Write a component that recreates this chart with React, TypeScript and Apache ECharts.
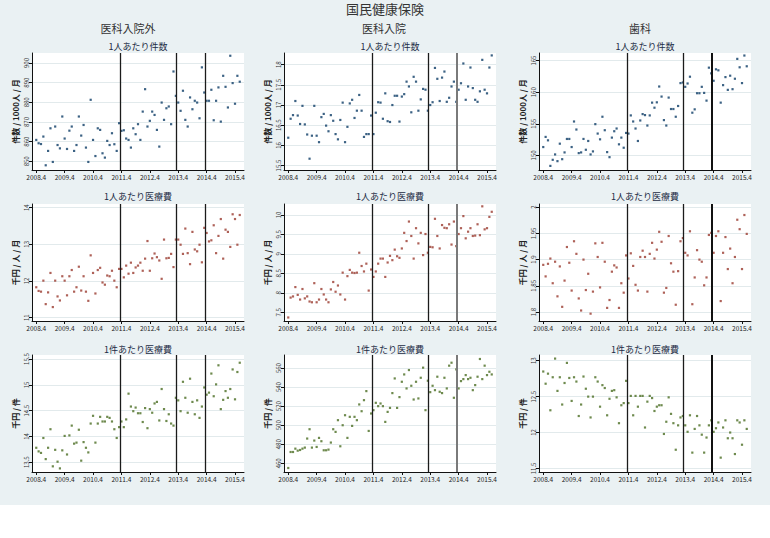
import React, { useEffect, useRef } from "react";
import * as echarts from "echarts";

// Monthly series, 2008.4 onward (month index 0 = 2008.4)
const yearTickMonths = [0, 12, 24, 36, 48, 60, 72, 84];
const yearTickLabels = ["2008.4", "2009.4", "2010.4", "2011.4", "2012.4", "2013.4", "2014.4", "2015.4"];
const eventMonths = [35.5, 59, 71.3];

const columnTitles = ["医科入院外", "医科入院", "歯科"];
const rowTitles = ["1人あたり件数", "1人あたり医療費", "1件あたり医療費"];
const rowUnits = ["件数 / 1000人 / 月", "千円 / 人 / 月", "千円 / 件"];

// 1人あたり件数
const outpatientCount = [
  860.9, 859.2, 858.8, 862.6, 848.0, 855.3, 866.8, 849.7, 867.7, 858.3,
  856.6, 872.8, 861.6, 856.3, 865.6, 867.7, 855.3, 858.3, 872.8, 863.1,
  868.5, 857.0, 849.7, 881.3, 860.9, 852.7, 866.8, 866.0, 854.1, 851.9,
  860.4, 858.3, 864.3, 858.7, 855.3, 869.4, 865.5, 865.8, 861.6, 860.9,
  857.0, 866.8, 863.8, 868.9, 860.9, 875.3, 886.7, 867.7, 870.6, 875.3,
  873.6, 866.0, 857.5, 879.9, 871.1, 877.0, 877.9, 868.9, 895.7, 883.3,
  879.9, 875.7, 885.9, 871.1, 867.7, 882.5, 876.5, 880.8, 879.9, 871.9,
  897.8, 885.0, 880.8, 880.8, 886.4, 870.9, 880.8, 887.6, 870.2, 893.5,
  887.9, 877.4, 903.7, 889.8, 879.3, 893.5, 890.5,
];
const inpatientCount = [
  16.19, 16.66, 16.75, 17.1, 16.74, 16.53, 16.98, 16.52, 16.27, 15.67,
  16.24, 16.98, 16.24, 16.08, 16.7, 16.78, 16.49, 16.35, 16.75, 16.61,
  16.28, 16.15, 16.63, 17.06, 16.08, 16.46, 17.04, 17.13, 16.68, 16.86,
  17.25, 16.86, 16.21, 16.28, 16.28, 16.74, 16.28, 16.81, 17.07, 17.06,
  16.66, 17.29, 16.6, 16.58, 17.0, 17.23, 17.23, 16.59, 17.21, 17.27,
  17.58, 17.46, 16.82, 17.7, 17.58, 16.86, 17.14, 17.4, 17.38, 16.86,
  17.0, 17.07, 17.92, 17.65, 17.1, 17.68, 17.83, 17.08, 17.18, 17.46,
  17.58, 17.08, 17.38, 17.54, 18.03, 17.13, 17.46, 17.93, 17.42, 17.13,
  17.08, 17.34, 18.12, 17.38, 17.29, 17.93, 18.23,
];
const dentalCount = [
  151.33, 152.93, 152.39, 148.35, 149.31, 150.16, 149.1, 151.86, 149.41, 150.48,
  152.61, 152.61, 151.33, 155.37, 154.1, 150.37, 150.48, 152.61, 150.9, 152.29,
  150.16, 150.64, 154.95, 153.46, 152.55, 156.12, 153.99, 150.53, 149.73, 152.82,
  153.83, 154.26, 151.76, 152.82, 151.22, 153.56, 153.46, 156.33, 155.37, 154.26,
  152.29, 155.53, 156.54, 156.38, 154.73, 156.33, 158.35, 157.55, 158.4, 160.9,
  159.31, 155.59, 154.73, 159.15, 157.34, 157.34, 156.12, 157.82, 161.44, 161.54,
  160.85, 161.38, 162.45, 156.76, 157.29, 159.84, 159.84, 160.85, 159.89, 158.67,
  163.88, 162.98, 161.81, 163.62, 163.46, 158.35, 161.12, 162.39, 160.37, 162.61,
  160.48, 162.13, 165.27, 163.94, 161.44, 165.8, 164.1,
];

// 1人あたり医療費
const outpatientPerCapita = [
  11.83, 11.73, 11.71, 12.01, 11.37, 11.69, 12.22, 11.29, 12.01, 11.58,
  11.47, 12.13, 12.01, 11.61, 12.13, 12.3, 11.71, 11.83, 12.39, 11.74,
  12.13, 11.71, 11.46, 12.7, 12.22, 11.66, 12.3, 12.36, 11.96, 11.9,
  12.15, 12.13, 12.28, 12.01, 11.83, 12.33, 12.33, 12.1, 12.42, 12.2,
  12.5, 12.22, 12.37, 12.42, 12.5, 12.28, 12.61, 13.09, 12.28, 12.62,
  12.75, 12.65, 12.56, 12.06, 13.13, 12.62, 12.63, 12.74, 12.38, 13.13,
  13.13, 12.99, 12.74, 13.43, 12.76, 12.46, 13.34, 12.86, 12.81, 12.99,
  12.51, 13.45, 13.31, 13.08, 13.11, 13.52, 12.76, 13.23, 13.69, 12.61,
  13.4, 13.34, 12.93, 13.82, 13.69, 12.99, 13.8,
];
const inpatientPerCapita = [
  7.37, 7.88, 7.91, 8.15, 7.95, 7.83, 8.1, 7.86, 7.91, 7.78,
  7.76, 8.25, 7.76, 7.83, 8.1, 7.96, 7.83, 7.76, 8.09, 8.28,
  8.03, 8.19, 7.96, 8.52, 7.83, 8.43, 8.59, 8.52, 8.51, 8.52,
  9.03, 8.69, 8.55, 8.75, 8.06, 8.6, 8.41, 8.55, 8.75, 8.88,
  8.88, 8.41, 8.78, 8.95, 8.84, 9.11, 8.94, 8.9, 9.14, 9.54,
  9.33, 9.83, 9.46, 8.88, 9.66, 9.27, 9.54, 8.97, 9.51, 9.03,
  9.18, 9.17, 9.9, 9.46, 9.14, 9.74, 9.67, 9.66, 9.76, 9.24,
  9.83, 9.2, 9.51, 9.66, 9.97, 9.4, 9.57, 9.66, 9.46, 9.47,
  9.76, 9.48, 10.22, 9.63, 9.66, 9.95, 10.08,
];
const dentalPerCapita = [
  1.89, 1.868, 1.892, 1.902, 1.855, 1.896, 1.83, 1.887, 1.81, 1.86,
  1.924, 1.894, 1.841, 1.935, 1.911, 1.826, 1.803, 1.9, 1.842, 1.873,
  1.797, 1.839, 1.931, 1.905, 1.847, 1.932, 1.896, 1.808, 1.823, 1.877,
  1.889, 1.885, 1.808, 1.855, 1.837, 1.908, 1.864, 1.912, 1.888, 1.852,
  1.841, 1.905, 1.917, 1.905, 1.839, 1.911, 1.932, 1.902, 1.919, 1.953,
  1.934, 1.837, 1.846, 1.945, 1.893, 1.877, 1.814, 1.878, 1.935, 1.941,
  1.913, 1.908, 1.954, 1.815, 1.866, 1.918, 1.9, 1.896, 1.851, 1.866,
  1.947, 1.951, 1.913, 1.945, 1.954, 1.821, 1.913, 1.943, 1.882, 1.921,
  1.855, 1.905, 1.976, 1.958, 1.882, 1.985, 1.949,
];

// 1件あたり医療費
const outpatientPerClaim = [
  13.78, 13.71, 13.68, 13.97, 13.56, 13.78, 14.14, 13.42, 13.74, 13.51,
  13.38, 13.73, 14.01, 13.65, 14.02, 14.21, 13.86, 13.88, 14.13, 13.53,
  13.89, 13.78, 13.69, 14.25, 14.4, 13.88, 14.25, 14.38, 14.29, 14.29,
  14.38, 14.36, 14.29, 14.14, 13.97, 14.18, 14.29, 14.18, 14.33, 14.83,
  14.58, 14.49, 14.56, 14.45, 14.45, 14.28, 14.55, 14.16, 14.53, 14.46,
  14.64, 14.67, 14.31, 14.92, 14.53, 14.3, 14.43, 14.25, 14.21, 14.75,
  14.7, 14.49, 15.06, 14.75, 14.46, 15.12, 14.67, 14.43, 14.7, 14.36,
  14.58, 14.95, 14.81, 14.85, 15.22, 14.78, 15.01, 15.38, 14.53, 14.71,
  14.88, 14.75, 14.92, 15.3, 14.72, 15.25, 15.43,
];
const inpatientPerClaim = [
  455.1, 471.9, 471.9, 475.4, 473.3, 474.0, 475.4, 476.5, 486.0, 495.8,
  476.5, 483.9, 477.2, 486.7, 483.2, 473.7, 473.7, 474.4, 481.8, 495.8,
  493.0, 505.3, 477.9, 500.0, 510.5, 486.7, 508.8, 499.3, 508.8, 505.3,
  521.8, 514.7, 526.3, 535.8, 494.0, 512.3, 515.8, 523.5, 520.0, 522.8,
  520.0, 503.5, 514.0, 518.2, 533.7, 549.1, 518.2, 529.5, 545.6, 553.3,
  538.6, 557.9, 541.4, 527.0, 545.6, 528.1, 549.8, 560.4, 515.8, 546.7,
  534.7, 541.4, 536.8, 550.9, 535.1, 533.7, 549.8, 538.6, 562.5, 565.6,
  528.8, 558.6, 538.6, 546.3, 548.4, 552.6, 548.4, 549.8, 536.8, 542.1,
  550.9, 569.5, 548.4, 562.5, 552.6, 556.1, 553.3,
];
const dentalPerClaim = [
  12.85, 12.68, 12.82, 12.31, 12.77, 13.03, 12.58, 12.77, 12.39, 12.69,
  12.97, 12.76, 12.44, 12.77, 12.71, 12.23, 12.39, 12.78, 12.61, 12.5,
  12.21, 12.5, 12.77, 12.71, 12.36, 12.66, 12.62, 12.24, 12.47, 12.58,
  12.59, 12.49, 12.13, 12.38, 12.41, 12.72, 12.41, 12.51, 12.24, 12.51,
  12.36, 12.51, 12.51, 12.07, 12.43, 12.51, 12.48, 12.3, 12.36, 12.38,
  12.38, 11.98, 12.15, 12.49, 12.26, 12.13, 11.76, 12.1, 12.21, 12.23,
  12.1, 12.01, 12.24, 11.72, 12.05, 12.23, 12.1, 11.97, 11.72, 11.93,
  12.1, 12.17, 12.01, 12.06, 12.14, 11.65, 12.07, 12.17, 11.92, 12.0,
  11.92, 11.7, 12.17, 12.14, 11.83, 12.17, 12.05,
];

// y-axis tick values per panel
const ticksOutCount = [850, 860, 870, 880, 890, 900];
const ticksInCount = [15.5, 16, 16.5, 17, 17.5, 18];
const ticksDentCount = [150, 155, 160, 165];
const ticksOutPerCapita = [11, 12, 13, 14];
const ticksInPerCapita = [7.5, 8, 8.5, 9, 9.5, 10];
const ticksDentPerCapita = [1.8, 1.85, 1.9, 1.95, 2];
const ticksOutPerClaim = [13.5, 14, 14.5, 15, 15.5];
const ticksInPerClaim = [460, 480, 500, 520, 540, 560];
const ticksDentPerClaim = [11.5, 12, 12.5, 13];

const panelSeries = [
  { data: outpatientCount, ticks: ticksOutCount, min: 845.6, max: 905.1 },
  { data: inpatientCount, ticks: ticksInCount, min: 15.39, max: 18.29 },
  { data: dentalCount, ticks: ticksDentCount, min: 147.7, max: 166.2 },
  { data: outpatientPerCapita, ticks: ticksOutPerCapita, min: 10.91, max: 14.1 },
  { data: inpatientPerCapita, ticks: ticksInPerCapita, min: 7.28, max: 10.28 },
  { data: dentalPerCapita, ticks: ticksDentPerCapita, min: 1.783, max: 2.006 },
  { data: outpatientPerClaim, ticks: ticksOutPerClaim, min: 13.31, max: 15.58 },
  { data: inpatientPerClaim, ticks: ticksInPerClaim, min: 450.9, max: 573.7 },
  { data: dentalPerClaim, ticks: ticksDentPerClaim, min: 11.45, max: 13.08 },
];

// layout
const colLeft = [32, 284, 539];
const plotWidth = 212;
const rowTop = [53, 204, 355];
const plotHeight = 117;
const rowColor = ["#1a476f", "#a0453b", "#55752f"];
const subtitleY = [46, 196, 349];
const FONT = '"Noto Sans CJK JP", "Noto Sans", sans-serif';

function eventLineStyles(col: number) {
  return eventMonths.map((m, k) => {
    const last = k === eventMonths.length - 1;
    let style = { color: "#1b1b1b", width: 1.3, type: "solid" as const };
    if (last && col === 1) style = { color: "#7a7a7a", width: 2, type: "solid" as const };
    if (last && col === 2) style = { color: "#111", width: 2, type: "solid" as const };
    return { xAxis: m, lineStyle: style };
  });
}

function buildOption() {
  const grid: any[] = [];
  const xAxis: any[] = [];
  const yAxis: any[] = [];
  const series: any[] = [];
  const graphic: any[] = [];

  graphic.push({
    type: "text",
    x: 385,
    y: 8,
    style: { text: "国民健康保険", font: `13px ${FONT}`, fill: "#333", align: "center", verticalAlign: "middle" },
  });
  columnTitles.forEach((t, c) => {
    graphic.push({
      type: "text",
      x: 128 + c * 256,
      y: 28,
      style: { text: t, font: `11px ${FONT}`, fill: "#333", align: "center", verticalAlign: "middle" },
    });
  });

  panelSeries.forEach((p, i) => {
    const row = Math.floor(i / 3);
    const col = i % 3;
    grid.push({
      left: colLeft[col],
      top: rowTop[row],
      width: plotWidth,
      height: plotHeight,
      show: true,
      backgroundColor: "#ffffff",
      borderWidth: 0,
    });
    graphic.push({
      type: "text",
      x: colLeft[col] + plotWidth / 2,
      y: subtitleY[row],
      style: { text: rowTitles[row], font: `9px ${FONT}`, fill: "#1c2b44", align: "center", verticalAlign: "middle" },
    });
    xAxis.push({
      type: "value",
      gridIndex: i,
      min: -1.8,
      max: 87.8,
      axisLine: { show: true, onZero: false, lineStyle: { color: "#111", width: 1 } },
      axisTick: { show: true, length: 3, customValues: yearTickMonths, lineStyle: { color: "#111" } },
      axisLabel: {
        show: true,
        customValues: yearTickMonths,
        fontSize: 6.5,
        fontFamily: FONT,
        color: "#222",
        margin: 4,
        formatter: (v: number) => yearTickLabels[yearTickMonths.indexOf(Math.round(v))] ?? "",
      },
      splitLine: { show: false },
    });
    yAxis.push({
      type: "value",
      gridIndex: i,
      min: p.min,
      max: p.max,
      name: rowUnits[row],
      nameLocation: "middle",
      nameRotate: 90,
      nameGap: 13,
      nameTextStyle: { fontSize: 8, fontWeight: "bold", color: "#222", fontFamily: FONT },
      axisLine: { show: true, onZero: false, lineStyle: { color: "#111", width: 1 } },
      axisTick: { show: true, length: 3, customValues: p.ticks, lineStyle: { color: "#111" } },
      axisLabel: {
        show: true,
        customValues: p.ticks,
        rotate: 90,
        fontSize: 6,
        fontFamily: FONT,
        color: "#333",
        margin: 3,
        formatter: (v: number) => String(v),
      },
      splitLine: { show: true, lineStyle: { color: "#e2eaec", width: 1 } },
    });
    series.push({
      type: "scatter",
      xAxisIndex: i,
      yAxisIndex: i,
      data: p.data.map((v, m) => [m, v]),
      symbol: "rect",
      symbolSize: 2.2,
      itemStyle: { color: rowColor[row], opacity: 0.85 },
      markLine: {
        silent: true,
        symbol: ["none", "none"],
        label: { show: false },
        data: eventLineStyles(col),
      },
    });
  });

  return {
    animation: false,
    backgroundColor: "transparent",
    grid,
    xAxis,
    yAxis,
    series,
    graphic,
  };
}

export default function App() {
  const ref = useRef<HTMLDivElement>(null);
  useEffect(() => {
    if (!ref.current) return;
    const chart = echarts.init(ref.current, undefined, { renderer: "svg" });
    chart.setOption(buildOption() as any);
    return () => chart.dispose();
  }, []);
  return (
    <div
      style={{
        position: "absolute",
        left: 0,
        top: 0,
        width: 770,
        height: 538,
        background: "linear-gradient(#eaf1f3 0px, #eaf1f3 505px, #ffffff 505px)",
      }}
    >
      <div ref={ref} style={{ width: 770, height: 538 }} />
    </div>
  );
}
